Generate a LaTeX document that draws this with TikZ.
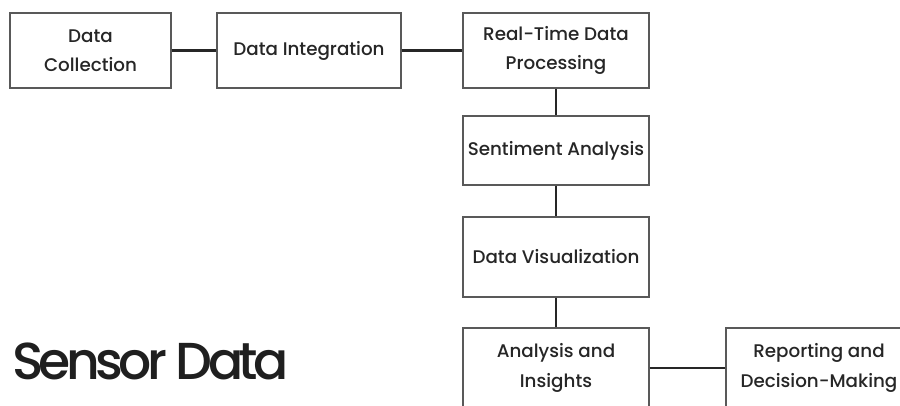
\documentclass[tikz,border=0pt]{standalone}
\usepackage{fontspec}
\setmainfont{Poppins Medium}
\newfontfamily\bigfont[LetterSpace=-9]{Poppins Medium}
\begin{document}
\begin{tikzpicture}[x=1pt,y=-1pt,
  stepbox/.style={draw=black!65,line width=1.3pt,fill=white,inner sep=0pt,align=center,
    font=\fontsize{18.3}{29.5}\selectfont,text=black!85},
  link/.style={draw=black!85,line width=2.2pt}]
\useasboundingbox (0,0) rectangle (900,405);
\node[stepbox,minimum width=161pt,minimum height=75pt] (dc) at (90.5,50.5) {Data\\Collection};
\node[stepbox,minimum width=184pt,minimum height=75pt] (di) at (309,50.5) {Data Integration};
\node[stepbox,minimum width=186pt,minimum height=75pt] (rt) at (556,50.5) {Real-Time Data\\Processing};
\node[stepbox,minimum width=186pt,minimum height=69pt] (sa) at (556,150.5) {Sentiment Analysis};
\node[stepbox,minimum width=186pt,minimum height=80pt] (dv) at (556,257) {Data Visualization};
\node[stepbox,minimum width=186pt,minimum height=80pt] (ai) at (556,368) {Analysis and\\Insights};
\node[stepbox,minimum width=186pt,minimum height=80pt] (rd) at (819,368) {Reporting and\\Decision-Making};
\node[anchor=base west,inner sep=0pt,font=\bigfont\fontsize{52}{52}\selectfont,text=black!88] (sd) at (12,379) {Sensor Data};
\draw[link] (dc) -- (di);
\draw[link] (di) -- (rt);
\draw[link] (rt) -- (sa);
\draw[link] (sa) -- (dv);
\draw[link] (dv) -- (ai);
\draw[link] (ai) -- (rd);
\end{tikzpicture}
\end{document}
